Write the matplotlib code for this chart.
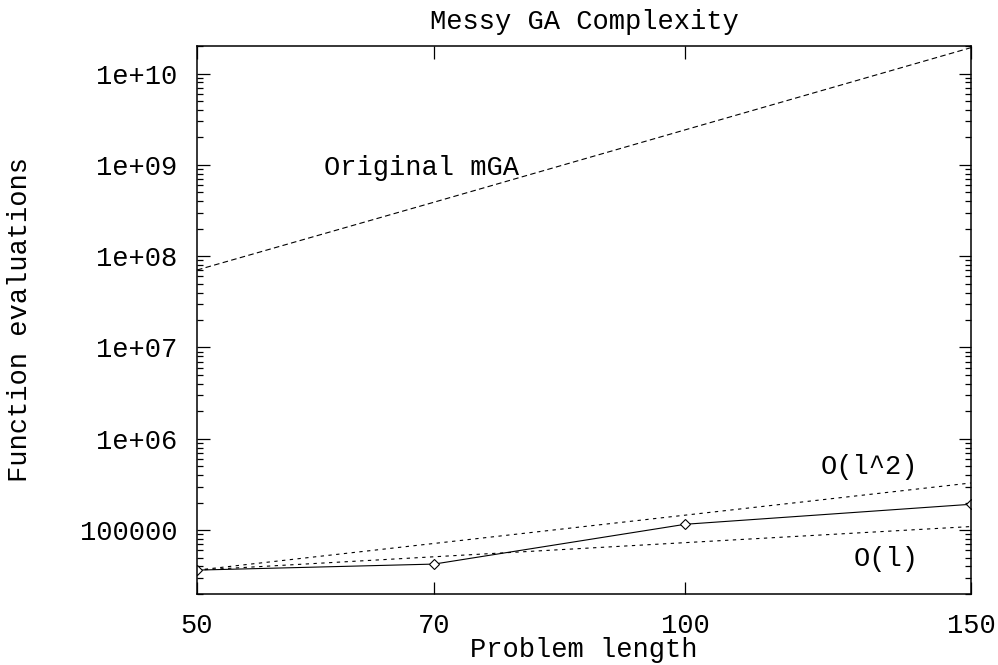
import matplotlib
matplotlib.use('Agg')
import matplotlib.pyplot as plt
from matplotlib.ticker import FixedLocator, NullLocator, LogLocator, NullFormatter

# data
problem_length = [50, 70, 100, 150]
measured = [36500, 42500, 116000, 192000]
order_l = [36500, 51100, 73000, 109500]
order_l2 = [36500, 71500, 146000, 328500]
original_mga = [7.05e7, 3.9e8, 2.42e9, 1.92e10]

xtick_vals = [50, 70, 100, 150]
xtick_labels = ['50', '70', '100', '150']
ytick_vals = [1e5, 1e6, 1e7, 1e8, 1e9, 1e10]
ytick_labels = ['100000', '1e+06', '1e+07', '1e+08', '1e+09', '1e+10']

plt.rcParams['font.family'] = ['Liberation Mono', 'DejaVu Sans Mono']
plt.rcParams['font.size'] = 19.5

fig = plt.figure(figsize=(9.98, 6.65), dpi=100)
ax = fig.add_axes([0.1974, 0.1068, 0.7756, 0.824])

ax.plot(problem_length, original_mga, color='black', lw=0.8, ls=(0, (5, 3)))
ax.plot(problem_length, order_l2, color='black', lw=0.8, ls=(0, (3, 4)))
ax.plot(problem_length, order_l, color='black', lw=0.8, ls=(0, (3, 4)))
ax.plot(problem_length, measured, color='black', lw=0.8, marker='D',
        markersize=5.5, markerfacecolor='white', markeredgewidth=0.8)

ax.set_xscale('log')
ax.set_yscale('log')
ax.set_xlim(50, 150)
ax.set_ylim(2e4, 2e10)

ax.xaxis.set_major_locator(FixedLocator(xtick_vals))
ax.set_xticklabels(xtick_labels)
ax.xaxis.set_minor_locator(NullLocator())
ax.yaxis.set_major_locator(FixedLocator(ytick_vals))
ax.set_yticklabels(ytick_labels)
ax.yaxis.set_minor_locator(LogLocator(base=10, subs=range(2, 10), numticks=20))
ax.yaxis.set_minor_formatter(NullFormatter())

ax.tick_params(which='both', direction='in', top=True, right=True, width=0.9)
ax.tick_params(which='major', length=9)
ax.tick_params(which='minor', length=4.5)
ax.tick_params(axis='x', which='major', pad=14)
ax.tick_params(axis='y', which='major', pad=14)
for s in ax.spines.values():
    s.set_linewidth(1.1)

ax.text(59.9, 9.3e8, 'Original mGA', ha='left', va='center')
ax.text(139.2, 4.9e5, 'O(l^2)', ha='right', va='center')
ax.text(139.2, 4.8e4, 'O(l)', ha='right', va='center')

ax.set_title('Messy GA Complexity', fontsize=19.5, pad=12)
ax.set_xlabel('Problem length', labelpad=-2)
ax.set_ylabel('Function evaluations', labelpad=34)

fig.savefig('out.png', dpi=100)
